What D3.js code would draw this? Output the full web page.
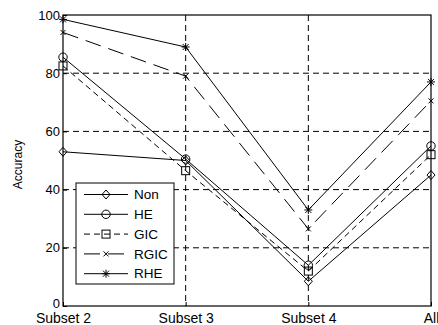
<!DOCTYPE html>
<html>
<head>
<meta charset="utf-8">
<script src="https://cdn.jsdelivr.net/npm/d3@7"></script>
<style>
  body { margin: 0; background: #fff; }
  text { font-family: "Liberation Sans", Arial, sans-serif; fill: #000; }
</style>
</head>
<body>
<div id="chart"></div>
<script>
// data
const subsets = ["Subset 2", "Subset 3", "Subset 4", "All"]
const yTicks = [0, 20, 40, 60, 80, 100]
const nonVals = [53, 50, 8.5, 45]
const heVals = [85.5, 50.5, 14, 55]
const gicVals = [82.5, 46.5, 12, 52]
const rgicVals = [94, 79, 26.5, 70.5]
const rheVals = [98.5, 89, 33, 77]

const series = [
  {name: "Non", values: nonVals, dash: null, marker: "diamond"},
  {name: "HE", values: heVals, dash: null, marker: "circle"},
  {name: "GIC", values: gicVals, dash: "6,4", marker: "square"},
  {name: "RGIC", values: rgicVals, dash: "16,8", marker: "x"},
  {name: "RHE", values: rheVals, dash: null, marker: "star"}
]

const svgWidth = 438, svgHeight = 325
const margin = {top: 15, right: 7, bottom: 19, left: 63}
const width = svgWidth - margin.left - margin.right
const height = svgHeight - margin.top - margin.bottom

const svg = d3.select("#chart").append("svg")
  .attr("width", svgWidth)
  .attr("height", svgHeight)

const g = svg.append("g")
  .attr("transform", "translate(" + margin.left + "," + margin.top + ")")

const x = d3.scalePoint().domain(subsets).range([0, width])
const y = d3.scaleLinear().domain([0, 100]).range([height, 0])

// grid
g.append("g").selectAll("line")
  .data(yTicks.slice(1, -1))
  .enter().append("line")
    .attr("x1", 0).attr("x2", width)
    .attr("y1", d => y(d)).attr("y2", d => y(d))
    .attr("stroke", "#000").attr("stroke-width", 1)
    .attr("stroke-dasharray", "6,4")
g.append("g").selectAll("line")
  .data(subsets.slice(1, -1))
  .enter().append("line")
    .attr("y1", 0).attr("y2", height)
    .attr("x1", d => x(d)).attr("x2", d => x(d))
    .attr("stroke", "#000").attr("stroke-width", 1)
    .attr("stroke-dasharray", "6,4")

// axes
const yAxis = g.append("g")
  .call(d3.axisLeft(y).tickValues(yTicks).tickSize(-4).tickPadding(3))
yAxis.selectAll("text").style("font-size", "13px")
// keep the "0" clear of the first category label
yAxis.selectAll("text").filter(d => d === 0).attr("y", -3)
const xAxis = g.append("g")
  .attr("transform", "translate(0," + height + ")")
  .call(d3.axisBottom(x).tickSize(-4).tickPadding(7))
xAxis.selectAll("text").style("font-size", "14px")
for (const ax of [yAxis, xAxis]) {
  ax.select(".domain").remove()
  ax.selectAll("line").attr("stroke", "#000")
  ax.selectAll("text").attr("fill", "#000")
    .style("font-family", "'Liberation Sans', Arial, sans-serif")
}

// frame
g.append("rect")
  .attr("width", width).attr("height", height)
  .attr("fill", "none").attr("stroke", "#000").attr("stroke-width", 1.2)

svg.append("text")
  .attr("transform", "translate(22," + (margin.top + height / 2 + 4) + ") rotate(-90)")
  .attr("text-anchor", "middle")
  .style("font-size", "12px")
  .text("Accuracy")

function drawMarker(sel, type) {
  const st = {fill: "none", stroke: "#000", "stroke-width": 1}
  let m
  if (type === "diamond") {
    m = sel.append("path").attr("d", "M0,-4.5L4,0L0,4.5L-4,0Z")
  } else if (type === "circle") {
    m = sel.append("circle").attr("r", 4.2)
  } else if (type === "square") {
    m = sel.append("rect").attr("x", -4).attr("y", -4).attr("width", 8).attr("height", 8)
  } else if (type === "x") {
    m = sel.append("path").attr("d", "M-2.5,-2.5L2.5,2.5M-2.5,2.5L2.5,-2.5")
  } else {
    m = sel.append("path").attr("d", "M-4,0L4,0M0,-4L0,4M-3,-3L3,3M-3,3L3,-3")
  }
  for (const k in st) m.attr(k, st[k])
}

const line = d3.line()
  .x((d, i) => x(subsets[i]))
  .y(d => y(d))

series.forEach(s => {
  g.append("path")
    .datum(s.values)
    .attr("d", line)
    .attr("fill", "none")
    .attr("stroke", "#000")
    .attr("stroke-width", 1)
    .attr("stroke-dasharray", s.dash)
  s.values.forEach((v, i) => {
    const mg = g.append("g").attr("transform", "translate(" + x(subsets[i]) + "," + y(v) + ")")
    drawMarker(mg, s.marker)
  })
})

// legend
const legend = svg.append("g").attr("transform", "translate(76,183)")
legend.append("rect")
  .attr("width", 98).attr("height", 101)
  .attr("fill", "#fff").attr("stroke", "#000").attr("stroke-width", 1)
series.forEach((s, i) => {
  const row = legend.append("g").attr("transform", "translate(0," + (11.5 + i * 19.8) + ")")
  row.append("line")
    .attr("x1", 8).attr("x2", 52)
    .attr("stroke", "#000").attr("stroke-width", 1)
    .attr("stroke-dasharray", s.dash)
  drawMarker(row.append("g").attr("transform", "translate(30,0)"), s.marker)
  row.append("text")
    .attr("x", 58).attr("dy", "0.35em")
    .style("font-size", "13.5px")
    .text(s.name)
})
</script>
</body>
</html>
